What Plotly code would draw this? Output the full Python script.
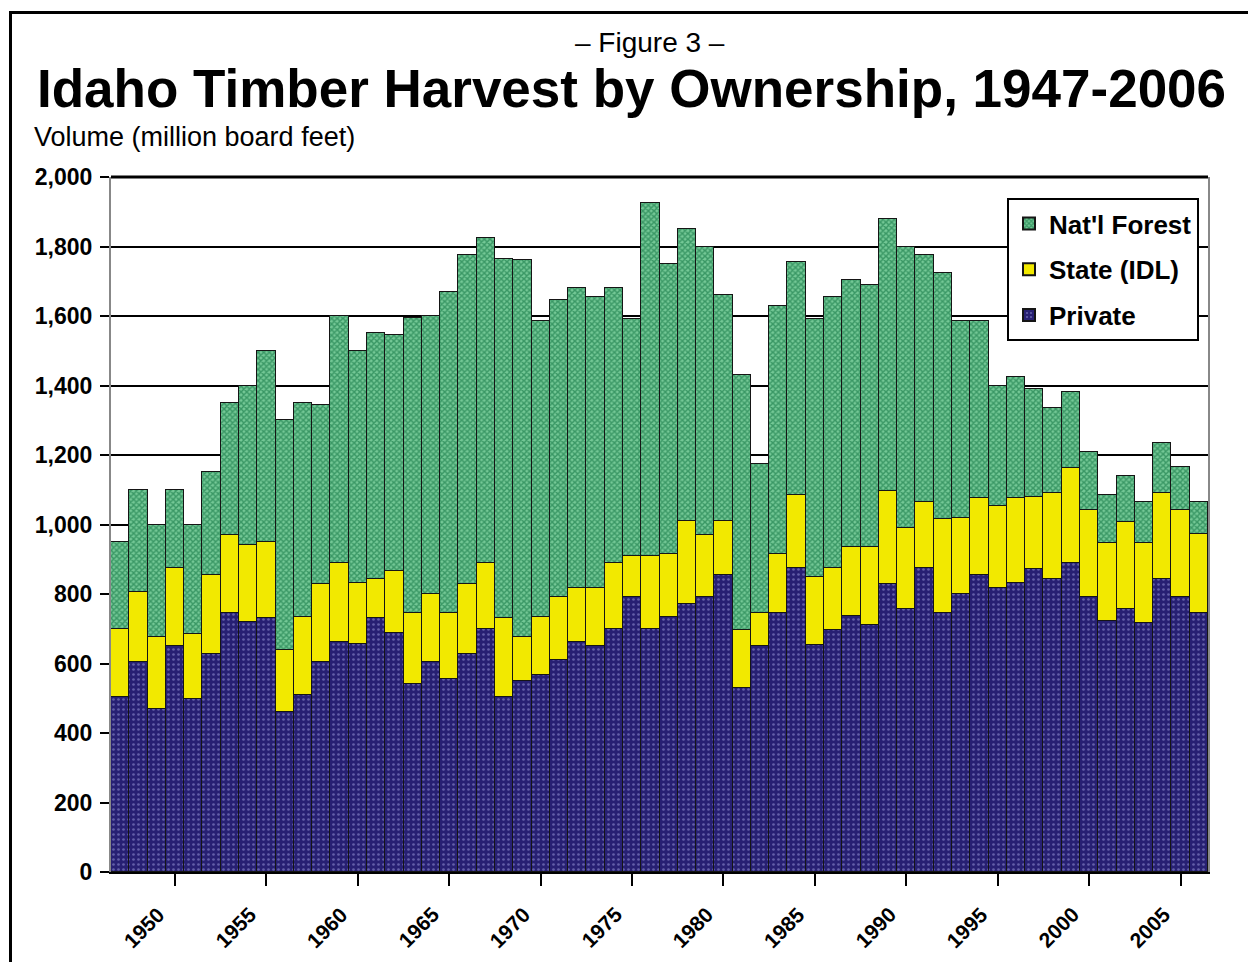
import plotly.graph_objects as go

years = list(range(1947, 2007))

private = [505, 605, 470, 650, 497, 627, 745, 720, 730, 460,
           510, 605, 662, 655, 731, 688, 540, 605, 555, 627,
           700, 505, 550, 566, 611, 661, 650, 698, 790, 700,
           735, 770, 790, 855, 530, 650, 745, 875, 652, 695,
           736, 710, 830, 757, 876, 745, 800, 855, 816, 832,
           873, 843, 890, 790, 723, 756, 718, 843, 790, 744]

state = [195, 200, 205, 225, 188, 228, 225, 220, 220, 180,
         225, 225, 228, 177, 111, 177, 205, 195, 190, 203,
         190, 225, 127, 169, 181, 157, 168, 190, 120, 210,
         180, 240, 180, 155, 167, 95, 170, 210, 198, 181,
         199, 225, 265, 233, 189, 272, 220, 220, 236, 243,
         207, 247, 272, 252, 223, 250, 228, 247, 251, 228]

natl_forest = [250, 295, 325, 225, 315, 295, 380, 460, 550, 660,
               615, 515, 710, 668, 708, 680, 850, 800, 925, 945,
               935, 1035, 1085, 850, 853, 862, 837, 792, 680, 1015,
               835, 840, 830, 650, 733, 430, 715, 670, 740, 779,
               770, 755, 785, 810, 710, 708, 565, 510, 348, 350,
               310, 245, 218, 168, 139, 134, 119, 145, 124, 93]

x_ticks = list(range(1950, 2006, 5))
y_ticks = list(range(0, 2001, 200))

# plot-area pixel geometry
L, R, T, B = 111, 1208, 177, 872
W, H = 1248, 962


def px(x):
    return (x - L) / (R - L)


def py(y):
    return (B - y) / (B - T)


FONT = "Liberation Sans, Arial, sans-serif"
line = dict(color="#151515", width=1)

fig = go.Figure()
fig.add_trace(go.Bar(
    x=years, y=private, name="Private", legendgroup="p", legendrank=3,
    marker=dict(color="#272073", line=line,
                pattern=dict(shape=".", fgcolor="#a09ee0", size=5,
                             solidity=0.22, fillmode="overlay")),
))
fig.add_trace(go.Bar(
    x=years, y=state, name="State (IDL)", legendgroup="s", legendrank=2,
    marker=dict(color="#f2e900", line=line),
))
fig.add_trace(go.Bar(
    x=years, y=natl_forest, name="Nat'l Forest", legendgroup="n", legendrank=1,
    marker=dict(color="#74c896", line=line,
                pattern=dict(shape="x", fgcolor="#006633", size=4,
                             solidity=0.6, fillmode="overlay")),
))

fig.update_layout(
    width=W, height=H,
    barmode="stack", bargap=0,
    paper_bgcolor="white", plot_bgcolor="white",
    margin=dict(l=L, r=W - R, t=T, b=H - B, autoexpand=False),
    font=dict(family=FONT, color="black"),
    showlegend=True,
    legend=dict(
        x=px(1007), y=py(198), xanchor="left", yanchor="top",
        traceorder="grouped", tracegroupgap=9,
        bordercolor="black", borderwidth=2, bgcolor="white",
        font=dict(size=26, family=FONT, weight="bold"),
        itemsizing="constant",
    ),
    xaxis=dict(
        range=[1946.5, 2006.5], tickvals=x_ticks, showticklabels=False,
        ticks="outside", ticklen=12, tickwidth=1.5,
        tickcolor="black", showline=True, linecolor="black", linewidth=1.5,
        showgrid=False, zeroline=False,
    ),
    yaxis=dict(
        range=[0, 2000], tickvals=y_ticks, tickformat=",",
        ticks="outside", ticklen=9, tickwidth=1.5, tickcolor="black",
        showline=True, linecolor="#888888", linewidth=2, mirror=True,
        showgrid=True, gridcolor="black", gridwidth=1.5, zeroline=False,
        ticklabelstandoff=3,
        tickfont=dict(size=23, family=FONT, weight="bold"),
    ),
)

# rotated year labels, placed like the original (left of each tick)
for yr in x_ticks:
    fig.add_annotation(text=f"<b>{yr}</b>", x=yr, xref="x", yref="paper",
                       y=py(927), xanchor="center", yanchor="middle",
                       xshift=-31, textangle=-45, showarrow=False,
                       font=dict(size=21, family=FONT))

fig.add_shape(type="line", xref="paper", yref="paper",
              x0=0, x1=1, y0=1, y1=1, line=dict(color="black", width=3))
# outer frame
fig.add_shape(type="rect", xref="paper", yref="paper",
              x0=px(10.5), x1=px(1300), y0=py(12.5), y1=py(1000),
              line=dict(color="black", width=3), layer="above")

fig.add_annotation(text="\u2013 Figure 3 \u2013", xref="paper", yref="paper",
                   x=px(650), y=py(42), xanchor="center", yanchor="middle",
                   showarrow=False, font=dict(size=28, family=FONT))
fig.add_annotation(text="<b>Idaho Timber Harvest by Ownership, 1947-2006</b>",
                   xref="paper", yref="paper",
                   x=px(631), y=py(88), xanchor="center", yanchor="middle",
                   showarrow=False, font=dict(size=53, family=FONT))
fig.add_annotation(text="Volume (million board feet)", xref="paper", yref="paper",
                   x=px(32), y=py(137), xanchor="left", yanchor="middle",
                   showarrow=False, font=dict(size=27, family=FONT))

fig.write_html("out.html")
